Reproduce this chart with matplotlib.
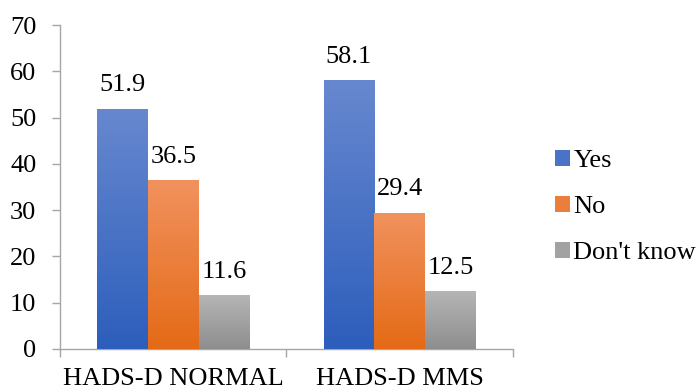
import matplotlib
matplotlib.use('Agg')
import matplotlib.pyplot as plt
import numpy as np
from matplotlib.colors import LinearSegmentedColormap
from matplotlib.patches import Patch

# data
categories = ['HADS-D NORMAL', 'HADS-D MMS']
series_names = ['Yes', 'No', "Don't know"]
yes_vals = [51.9, 58.1]
no_vals = [36.5, 29.4]
dontknow_vals = [11.6, 12.5]

# (top colour, bottom colour) for the gradient fill of each series
grad_colors = [('#6788cf', '#2d5ebc'),
               ('#f1925e', '#e46a16'),
               ('#b5b5b5', '#8e8e8e')]

plt.rcParams['font.family'] = ['Liberation Serif', 'DejaVu Serif']
plt.rcParams['font.size'] = 19

fig = plt.figure(figsize=(6.99, 3.92), dpi=100)
ax = fig.add_axes([0.0858, 0.1097, 0.648, 0.8265])

x = np.arange(len(categories))
width = 0.224
all_vals = [yes_vals, no_vals, dontknow_vals]
cmaps = [LinearSegmentedColormap.from_list('g%d' % i, [b, t])
         for i, (t, b) in enumerate(grad_colors)]

for i, vals in enumerate(all_vals):
    bars = ax.bar(x + (i - 1) * width, vals, width, color=grad_colors[i][1],
                  linewidth=0, zorder=2)
    for bar, v in zip(bars, vals):
        bx, bw, bh = bar.get_x(), bar.get_width(), bar.get_height()
        # vertical gradient, light at the top of each bar
        grad = np.linspace(0, 1, 256).reshape(-1, 1)
        im = ax.imshow(grad, cmap=cmaps[i], origin='lower', aspect='auto',
                       extent=[bx, bx + bw, 0, bh], zorder=3,
                       interpolation='bilinear')
        im.set_clip_path(bar)
        ax.annotate(f'{v:.1f}', (bx + bw / 2, bh), xytext=(0, 9),
                    textcoords='offset points', ha='center', va='bottom')

ax.set_xlim(-0.5, 1.5)
ax.set_ylim(0, 70)
ax.set_yticks(range(0, 71, 10))

# category separators as minor ticks on the x axis
ax.set_xticks(x)
ax.set_xticklabels(categories)
ax.set_xticks([-0.5, 0.5, 1.5], minor=True)
ax.tick_params(axis='x', which='major', length=0, pad=14)
ax.tick_params(axis='x', which='minor', length=6, color='#a6a6a6', width=1)
ax.tick_params(axis='y', length=6, color='#a6a6a6', width=1, pad=11)

for s in ['top', 'right']:
    ax.spines[s].set_visible(False)
for s in ['left', 'bottom']:
    ax.spines[s].set_color('#a6a6a6')
    ax.spines[s].set_linewidth(1)

handles = [Patch(facecolor=cmaps[i](0.5), label=series_names[i]) for i in range(3)]
fig.legend(handles=handles, loc='center left', bbox_to_anchor=(0.794, 0.472),
           frameon=False, handlelength=0.55, handleheight=0.55,
           handletextpad=0.15, labelspacing=0.9, borderpad=0, borderaxespad=0)

fig.savefig('out.png', dpi=100)
